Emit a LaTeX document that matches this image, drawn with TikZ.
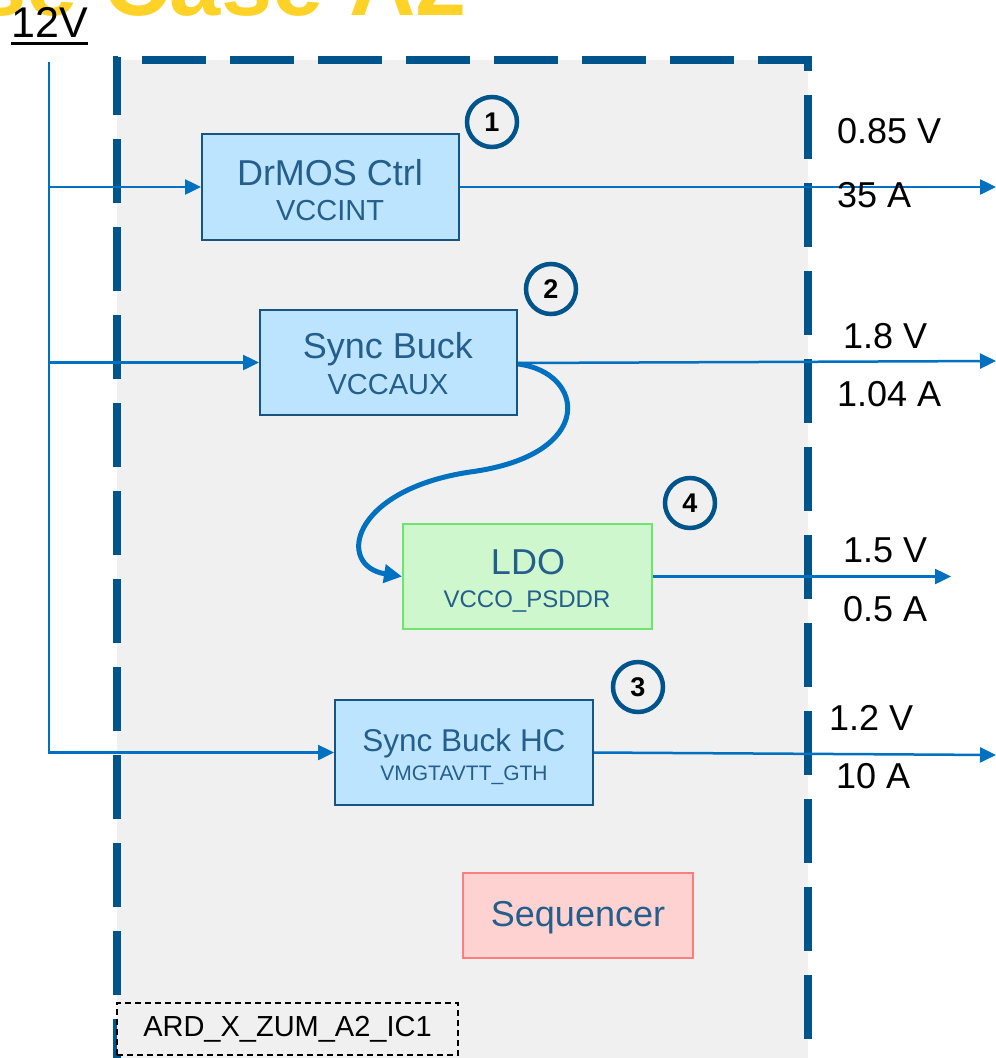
\documentclass[tikz,border=0pt]{standalone}
\usepackage{fontspec}
\setmainfont{Liberation Sans}
\usetikzlibrary{arrows.meta}
\definecolor{frameblue}{RGB}{0,84,140}
\definecolor{flowblue}{RGB}{0,112,192}
\definecolor{boxtext}{RGB}{36,94,140}
\definecolor{bluefill}{RGB}{189,228,255}
\definecolor{blueedge}{RGB}{24,84,130}
\definecolor{greenfill}{RGB}{206,247,206}
\definecolor{greenedge}{RGB}{110,230,110}
\definecolor{pinkfill}{RGB}{255,210,210}
\definecolor{pinkedge}{RGB}{255,125,125}
\definecolor{panel}{RGB}{240,240,240}
\definecolor{titleyellow}{RGB}{255,210,40}
\newcommand{\fsz}[1]{\fontsize{#1}{#1}\selectfont}
\tikzset{
  regbox/.style={draw=blueedge, fill=bluefill, line width=2, inner sep=0},
  ldobox/.style={draw=greenedge, fill=greenfill, line width=2, inner sep=0},
  seqbox/.style={draw=pinkedge, fill=pinkfill, line width=2, inner sep=0},
  bigtxt/.style={text=boxtext, font=\fsz{36}, inner sep=0, anchor=base},
  subtxt/.style={text=boxtext, inner sep=0, anchor=base},
  rail/.style={draw=flowblue, line width=2.5, -{Triangle[length=16,width=15]}},
  curvy/.style={draw=flowblue, line width=5, -{Triangle[length=18,width=18]}},
  outlbl/.style={font=\fsz{36}, inner sep=0, anchor=base west},
  badge/.style={circle, draw=frameblue, line width=4.5, minimum size=50, inner sep=0, font=\bfseries\fsz{27}},
  panelline/.style={draw=frameblue, line width=8, dash pattern=on 64 off 24},
}
\begin{document}
\begin{tikzpicture}[x=1pt,y=-1pt]
\useasboundingbox (0,0) rectangle (996,1058);
\clip (0,0) rectangle (996,1058);

% title
\node[text=titleyellow, font=\bfseries\fsz{92}, inner sep=0, anchor=base east] (title) at (467,15) {Use Case A2};

% board panel
\fill[panel] (117,60) rectangle (808,1080);
\draw[panelline, dash phase=6] (117,57) -- (117,1080);
\draw[panelline, dash phase=59] (113,60) -- (812,60);
\draw[panelline, dash phase=49] (808,56) -- (808,1080);

% supply
\node[font=\fsz{43}, inner sep=0, anchor=base west] (vin) at (11,37) {12V};
\draw[line width=3] ([yshift=-6]vin.base west) -- ([yshift=-6]vin.base east);

% regulators
\node[regbox, minimum width=257, minimum height=106] (drmos) at (330.5,187) {};
\node[bigtxt] (drmosA) at (330,185) {DrMOS Ctrl};
\node[subtxt, font=\fsz{29}] (drmosB) at (330,220) {VCCINT};

\node[regbox, minimum width=257, minimum height=105] (buck) at (388.5,362.5) {};
\node[bigtxt] (buckA) at (388,358) {Sync Buck};
\node[subtxt, font=\fsz{29}] (buckB) at (388,394) {VCCAUX};

\node[ldobox, minimum width=249, minimum height=105] (ldo) at (527.5,576.5) {};
\node[bigtxt] (ldoA) at (528,574) {LDO};
\node[subtxt, font=\fsz{24}] (ldoB) at (527,607) {VCCO\_PSDDR};

\node[regbox, minimum width=258, minimum height=105] (hc) at (464,752.5) {};
\node[subtxt, font=\fsz{31.5}] (hcA) at (464,751) {Sync Buck HC};
\node[subtxt, font=\fsz{21}] (hcB) at (464,780) {VMGTAVTT\_GTH};

\node[seqbox, minimum width=230, minimum height=85] (seq) at (578,915.5) {};
\node[bigtxt] (seqA) at (578,926) {Sequencer};

% numbered badges
\node[badge] (n1) at (492,122) {1};
\node[badge] (n2) at (551,289) {2};
\node[badge] (n4) at (690,503) {4};
\node[badge] (n3) at (638,687) {3};

% 12V distribution
\coordinate (top) at (49,62);
\draw[draw=flowblue, line width=2.5] (top) -- (top |- hc.west);
\draw[rail] (top |- drmos.west) -- (drmos.west);
\draw[rail] (top |- buck.west) -- (buck.west);
\draw[rail] (top) |- (hc.west);

% outputs
\coordinate (edge) at (996,0);
\coordinate (ldoend) at (951,0);
\draw[rail] (drmos.east) -- (drmos.east -| edge);
\draw[rail] (buck.north east |- 0,363) -- (edge |- 0,361);
\draw[rail] (ldo.east) -- (ldo.east -| ldoend);
\draw[rail] (hc.east) -- (edge |- 0,755);

% AUX rail feeds the LDO
\draw[curvy] (buck.north east |- 0,364) .. controls (585,372) and (598,455) .. (470,472)
             .. controls (350,490) and (336,566) .. (ldo.west);

% output ratings
\node[outlbl] (v1) at (837,143) {0.85 V};
\node[outlbl] (i1) at (837,207) {35 A};
\node[outlbl] (v2) at (843,348) {1.8 V};
\node[outlbl] (i2) at (837,406) {1.04 A};
\node[outlbl] (v3) at (843,562) {1.5 V};
\node[outlbl] (i3) at (843,621) {0.5 A};
\node[outlbl] (v4) at (829,730) {1.2 V};
\node[outlbl] (i4) at (836,788) {10 A};

% board label
\node[draw=black, dashed, dash pattern=on 6 off 4, line width=1.5, fill=panel,
      minimum width=341, minimum height=52, inner sep=0, font=\fsz{29}] (ic) at (287.5,1029) {ARD\_X\_ZUM\_A2\_IC1};
\end{tikzpicture}
\end{document}
